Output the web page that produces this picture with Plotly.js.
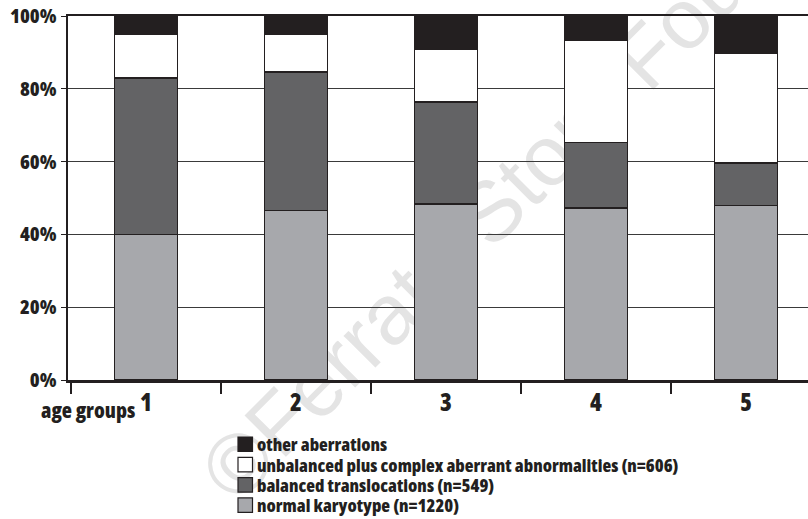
<!DOCTYPE html>
<html>
<head>
<meta charset="utf-8">
<script src="https://cdn.plot.ly/plotly-3.0.1.min.js"></script>
<style>
html,body{margin:0;padding:0;background:#fff}
#chart{width:808px;height:519px}
.xtick text, text.xtick, .ytick text, text.ytick, text.annotation-text, .annotation text {font-stretch:75%}
</style>
</head>
<body>
<div id="chart"></div>
<script>
const ageGroups = ["1", "2", "3", "4", "5"];
const normalKaryotype = [40.0, 46.6, 48.4, 47.3, 47.9];
const balancedTranslocations = [43.0, 38.0, 28.0, 18.0, 11.7];
const unbalancedComplex = [12.0, 10.3, 14.5, 28.1, 30.2];
const otherAberrations = [5.0, 5.1, 9.1, 6.6, 10.2];
const seriesNames = [
  "normal karyotype (n=1220)",
  "balanced translocations (n=549)",
  "unbalanced plus complex aberrant abnormalities (n=606)",
  "other aberrations"
];
const yTickVals = [0, 20, 40, 60, 80, 100];
const yTickText = ["0%", "20%", "40%", "60%", "80%", "100%"];
const xAxisLabel = "age groups";
const watermarkText = "©Ferrata Storti Foundation";

const FONT = "Open Sans, DejaVu Sans, sans-serif";
const INK = "#231f20";
const colors = ["#a7a8ac", "#636365", "#ffffff", "#231f20"];
const seriesVals = [normalKaryotype, balancedTranslocations, unbalancedComplex, otherAberrations];

const traces = seriesVals.map((vals, i) => ({
  type: "bar",
  x: ageGroups,
  y: vals,
  name: seriesNames[i],
  width: 0.42,
  marker: { color: colors[i], line: { color: INK, width: 1.5 } },
  hoverinfo: "skip",
  showlegend: false
}));

const W = 808, H = 519, ML = 68, MR = 0, MT = 16, MB = 139;
const PW = W - ML - MR, PH = H - MT - MB;
const px = x => (x - ML) / PW;
const py = y => (H - MB - y) / PH;

const shapes = [];
const annotations = [];
const legendTop = 437, legendStep = 20.3, sq = 14.5;
for (let k = 0; k < seriesNames.length; k++) {
  const i = seriesNames.length - 1 - k;
  const top = legendTop + k * legendStep;
  shapes.push({
    type: "rect", xref: "paper", yref: "paper",
    x0: px(238), x1: px(238 + sq), y0: py(top), y1: py(top + sq),
    fillcolor: colors[i], line: { color: INK, width: 1.2 }
  });
  annotations.push({
    text: seriesNames[i], xref: "paper", yref: "paper",
    x: px(256), y: py(top + sq / 2), xanchor: "left", yanchor: "middle", align: "left",
    showarrow: false, borderpad: 0,
    font: { family: FONT, size: 18, weight: 800, color: INK }
  });
}
annotations.push({
  text: xAxisLabel, xref: "paper", yref: "paper",
  x: px(87.5), y: py(410), xanchor: "center", yanchor: "middle",
  showarrow: false,
  font: { family: FONT, size: 21, weight: 800, color: INK }
});
shapes.push({
  type: "line", xref: "paper", yref: "paper", layer: "below",
  x0: px(500), y0: py(260), x1: px(700), y1: py(60),
  line: { color: "rgba(0,0,0,0)", width: 0 },
  label: {
    text: watermarkText, textposition: "middle", textangle: -45,
    font: { family: "Liberation Sans, Arial, sans-serif", size: 85, weight: "normal", color: "#e4e4e4" }
  }
});

const layout = {
  width: W, height: H,
  margin: { l: ML, r: MR, t: MT, b: MB, pad: 0 },
  paper_bgcolor: "#fff", plot_bgcolor: "rgba(0,0,0,0)",
  barmode: "stack",
  showlegend: false,
  font: { family: FONT, color: INK, weight: 800 },
  xaxis: {
    type: "category",
    range: [-0.52, 4.413],
    tickson: "boundaries",
    ticks: "outside", ticklen: 11, tickwidth: 2, tickcolor: INK,
    showline: true, linecolor: INK, linewidth: 2.5, mirror: true,
    showgrid: false, zeroline: false, automargin: false,
    tickfont: { family: FONT, size: 24, weight: 800, color: INK }
  },
  yaxis: {
    range: [0, 100],
    tickvals: yTickVals, ticktext: yTickText,
    ticks: "outside", ticklen: 5, tickwidth: 1, tickcolor: INK,
    showline: true, linecolor: INK, linewidth: 2.5,
    showgrid: true, gridcolor: "#3a3a3a", gridwidth: 1,
    zeroline: false, automargin: false,
    tickfont: { family: FONT, size: 20, weight: 800, color: INK }
  },
  shapes: shapes,
  annotations: annotations
};

Plotly.newPlot("chart", traces, layout, { staticPlot: true, displayModeBar: false });
</script>
</body>
</html>
